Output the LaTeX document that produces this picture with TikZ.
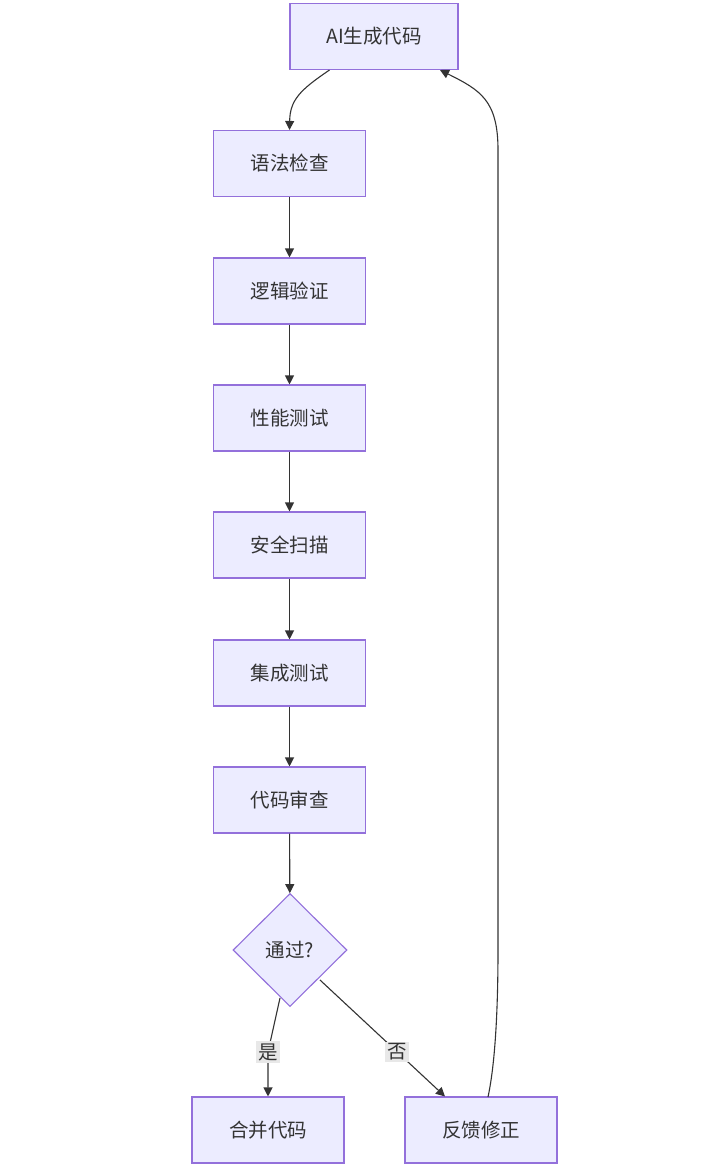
\documentclass[tikz,border=0pt]{standalone}
\usepackage{fontspec}
\setmainfont{Noto Sans CJK SC}
\usetikzlibrary{shapes.geometric,arrows.meta}
\definecolor{nodefill}{HTML}{ECECFF}
\definecolor{nodeedge}{HTML}{9370DB}
\definecolor{linec}{HTML}{333333}
\definecolor{lblbg}{HTML}{E8E8E8}
\begin{document}
\begin{tikzpicture}[x=1pt,y=-1pt,
  every node/.style={font=\fontsize{19.5}{23}\selectfont, text=linec},
  box/.style={draw=nodeedge, fill=nodefill, line width=1.1pt, minimum width=152pt, minimum height=66pt, inner sep=0pt},
  dec/.style={draw=nodeedge, fill=nodefill, line width=1.1pt, diamond, minimum width=114pt, minimum height=113pt, inner sep=0pt, aspect=1},
  arr/.style={draw=linec, line width=1.1pt, -{Triangle[length=9pt,width=9pt]}},
  lbl/.style={fill=lblbg, inner sep=2pt, text=linec}
]
\useasboundingbox (0,0) rectangle (726,1171);
\node[box, minimum width=168pt] (ai) at (374,36.5) {AI生成代码};
\node[box] (yf) at (289.5,163.5) {语法检查};
\node[box] (lj) at (289.5,291) {逻辑验证};
\node[box] (xn) at (289.5,418) {性能测试};
\node[box] (aq) at (289.5,545) {安全扫描};
\node[box] (jc) at (289.5,673) {集成测试};
\node[box] (dm) at (289.5,800) {代码审查};
\node[dec] (tg) at (290,950) {通过?};
\node[box] (hb) at (268,1130) {合并代码};
\node[box] (fk) at (481,1130) {反馈修正};

\draw[arr] (ai.south west) ++(40,0) coordinate (a1) .. controls (300,90) and (290,100) .. (yf.north);
\draw[arr] (yf) -- (lj);
\draw[arr] (lj) -- (xn);
\draw[arr] (xn) -- (aq);
\draw[arr] (aq) -- (jc);
\draw[arr] (jc) -- (dm);
\draw[arr] (dm) -- (tg);
\coordinate (d1) at (280,998);
\coordinate (d2) at (320,980);
\draw[arr] (d1) -- (268,1052) -- (hb.north);
\node[lbl] (yes) at (268,1052) {是};
\draw[arr] (d2) -- (fk.north -| 445,0);
\node[lbl] (no) at (397,1052) {否};
\coordinate (f1) at (488,1097);
\coordinate (a2) at (440,70);
\draw[arr] (f1) .. controls (496,1060) and (498,1000) .. (498,950) -- (498,150) .. controls (498,100) and (480,90) .. (a2);
\end{tikzpicture}
\end{document}
